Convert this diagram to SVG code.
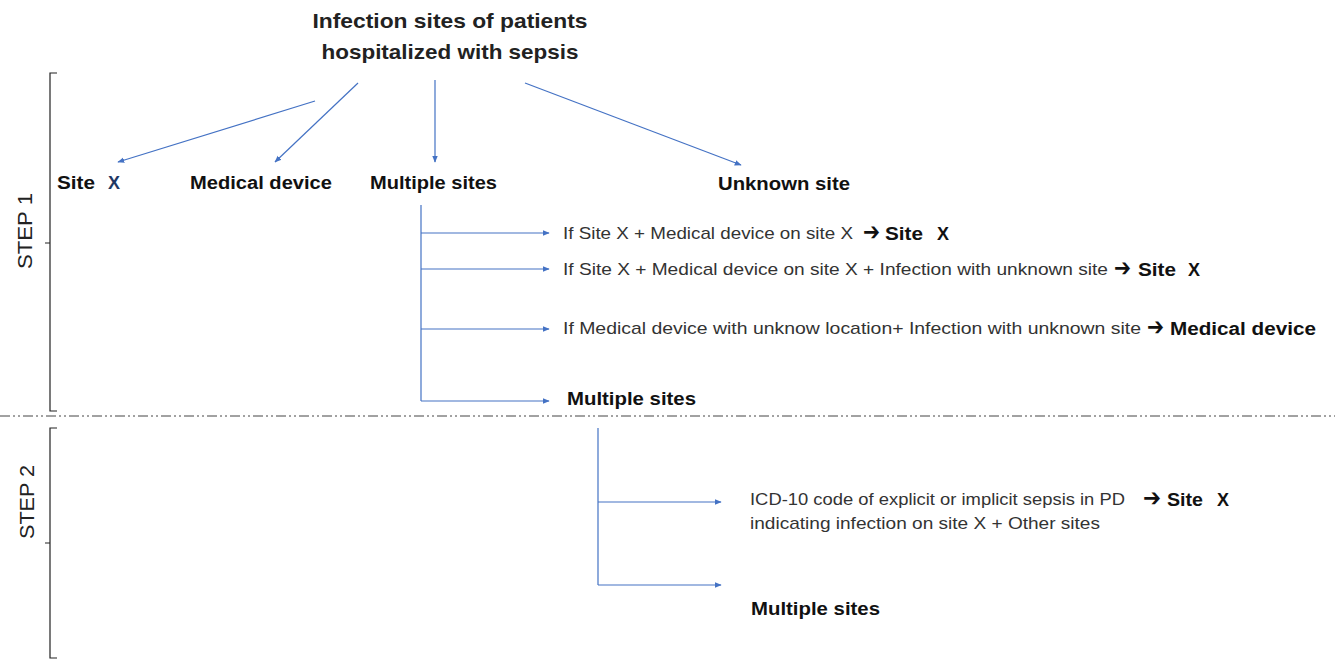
<svg xmlns="http://www.w3.org/2000/svg" width="1335" height="664" viewBox="0 0 1335 664">
<defs>
<style>
.t{font-family:"Liberation Sans",Arial,sans-serif;fill:#222}
.b{font-weight:bold}
.n{font-size:18px;font-weight:bold;fill:#111}
.r{font-size:17px;fill:#333}
.ar{font-family:"DejaVu Sans",sans-serif;font-size:25px;font-weight:bold;fill:#111}
.s{font-size:18px;font-weight:bold;fill:#111}
.c{stroke:#4472c4;stroke-width:1.2;fill:none}
.br{stroke:#222;stroke-width:1.2;fill:none}
</style>
<marker id="ah" viewBox="0 0 10 10" refX="9" refY="5" markerWidth="7" markerHeight="7" orient="auto" markerUnits="userSpaceOnUse">
<path d="M0,1 L10,5 L0,9 Z" fill="#4472c4"/>
</marker>
</defs>
<rect width="1335" height="664" fill="#fff"/>

<g id="title">
<text class="t b" x="450" y="28" font-size="21" text-anchor="middle" textLength="275" lengthAdjust="spacingAndGlyphs">Infection sites of patients</text>
<text class="t b" x="450" y="59" font-size="21" text-anchor="middle" textLength="257" lengthAdjust="spacingAndGlyphs">hospitalized with sepsis</text>
</g>

<g id="step1">
<path class="br" d="M57,73 H50 V411 H57 M50,243 H45"/>
<text class="t" transform="translate(32,231) rotate(-90)" font-size="20" text-anchor="middle" textLength="76" lengthAdjust="spacingAndGlyphs">STEP 1</text>
</g>

<g id="step2">
<path class="br" d="M57,428 H50 V658 H57 M50,543 H45"/>
<text class="t" transform="translate(34,502) rotate(-90)" font-size="20" text-anchor="middle" textLength="74" lengthAdjust="spacingAndGlyphs">STEP 2</text>
</g>

<g id="divider">
<line x1="0" y1="416" x2="1335" y2="416" stroke="#444" stroke-width="1" stroke-dasharray="10,3,2,3,2,3"/>
</g>

<g id="site-x">
<text class="t n" x="57" y="189"><tspan textLength="38" lengthAdjust="spacingAndGlyphs">Site</tspan><tspan x="108" fill="#1f3864">X</tspan></text>
</g>
<g id="medical-device">
<text class="t n" x="190" y="189" textLength="142" lengthAdjust="spacingAndGlyphs">Medical device</text>
</g>
<g id="multiple-sites">
<text class="t n" x="370" y="189" textLength="127" lengthAdjust="spacingAndGlyphs">Multiple sites</text>
</g>
<g id="unknown-site">
<text class="t n" x="718" y="190" textLength="132" lengthAdjust="spacingAndGlyphs">Unknown site</text>
</g>

<g id="rule1">
<text class="t r" x="563" y="239" textLength="290" lengthAdjust="spacingAndGlyphs">If Site X +  Medical device on site X</text>
<text class="ar" x="863" y="240" textLength="17" lengthAdjust="spacingAndGlyphs">➔</text>
<text class="t s" x="885" y="240" textLength="38" lengthAdjust="spacingAndGlyphs">Site</text>
<text class="t s" x="937" y="240">X</text>
</g>
<g id="rule2">
<text class="t r" x="563" y="275" textLength="545" lengthAdjust="spacingAndGlyphs">If Site X +  Medical device on site X + Infection with unknown site</text>
<text class="ar" x="1114" y="276" textLength="17" lengthAdjust="spacingAndGlyphs">➔</text>
<text class="t s" x="1138" y="276" textLength="38" lengthAdjust="spacingAndGlyphs">Site</text>
<text class="t s" x="1188" y="276">X</text>
</g>
<g id="rule3">
<text class="t r" x="563" y="334" textLength="578" lengthAdjust="spacingAndGlyphs">If Medical device with unknow location+ Infection with unknown site</text>
<text class="ar" x="1147" y="335" textLength="17" lengthAdjust="spacingAndGlyphs">➔</text>
<text class="t s" x="1170" y="335" textLength="146" lengthAdjust="spacingAndGlyphs">Medical device</text>
</g>
<g id="multiple-sites-1">
<text class="t n" x="567" y="405" textLength="129" lengthAdjust="spacingAndGlyphs">Multiple sites</text>
</g>

<g id="icd-rule">
<text class="t r" x="750" y="505" textLength="375" lengthAdjust="spacingAndGlyphs">ICD-10 code of explicit or implicit sepsis in PD</text>
<text class="t r" x="750" y="529" textLength="350" lengthAdjust="spacingAndGlyphs">indicating infection on site X  + Other sites</text>
<text class="ar" x="1143" y="506" textLength="18" lengthAdjust="spacingAndGlyphs">➔</text>
<text class="t s" x="1167" y="506" textLength="36" lengthAdjust="spacingAndGlyphs">Site</text>
<text class="t s" x="1217" y="506">X</text>
</g>
<g id="multiple-sites-2">
<text class="t n" x="751" y="615" textLength="129" lengthAdjust="spacingAndGlyphs">Multiple sites</text>
</g>

<g id="connectors">
<line class="c" x1="315" y1="101" x2="118" y2="162" marker-end="url(#ah)"/>
<line class="c" x1="358" y1="83" x2="275" y2="162" marker-end="url(#ah)"/>
<line class="c" x1="435" y1="80" x2="435" y2="162" marker-end="url(#ah)"/>
<line class="c" x1="525" y1="83" x2="741" y2="165" marker-end="url(#ah)"/>
<path class="c" d="M421,205 V401"/>
<line class="c" x1="421" y1="233" x2="549" y2="233" marker-end="url(#ah)"/>
<line class="c" x1="421" y1="269" x2="549" y2="269" marker-end="url(#ah)"/>
<line class="c" x1="421" y1="329" x2="549" y2="329" marker-end="url(#ah)"/>
<line class="c" x1="421" y1="401" x2="549" y2="401" marker-end="url(#ah)"/>
<path class="c" d="M598,428 V585"/>
<line class="c" x1="598" y1="502" x2="721" y2="502" marker-end="url(#ah)"/>
<line class="c" x1="598" y1="585" x2="721" y2="585" marker-end="url(#ah)"/>
</g>
</svg>
